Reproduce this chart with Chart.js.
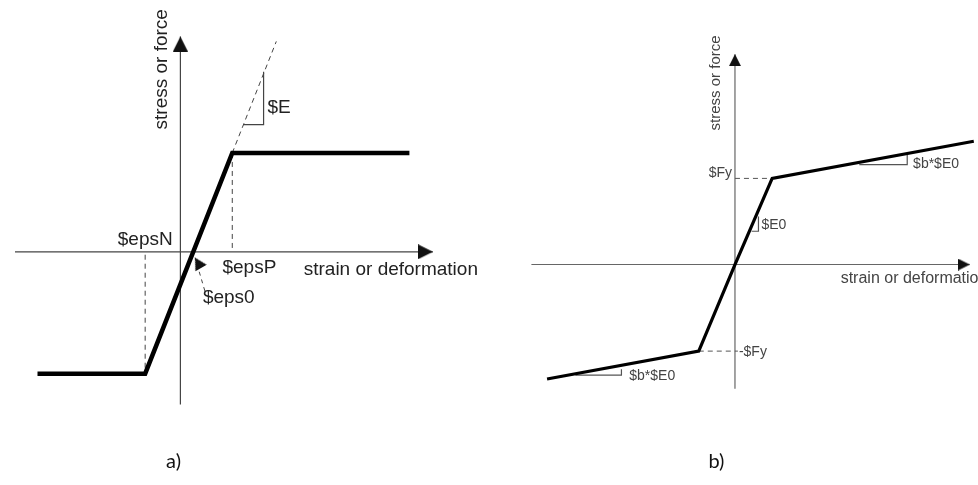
<!DOCTYPE html>
<html>
<head>
<meta charset="utf-8">
<title>stress-strain material models</title>
<script src="https://cdn.jsdelivr.net/npm/chart.js@4"></script>
<style>
  body { margin: 0; background: #fff; }
  #wrap { width: 978px; height: 485px; display: flex; }
  canvas { display: block; }
</style>
</head>
<body>
<div id="wrap">
  <canvas id="panelA" width="489" height="485"></canvas>
  <canvas id="panelB" width="489" height="485"></canvas>
</div>
<script>
// ---------- panel a) elastic - perfectly plastic ----------
const aStrain = [-14.6, -3.6, 5.3, 23.4];
const aStress = [-12.45, -12.45, 10.1, 10.1];
const aElasticX = [5.3, 9.8];          // dashed continuation of the $E line
const aElasticY = [10.1, 21.5];
const aSlopeX = [6.4, 8.5, 8.5];
const aSlopeY = [13.0, 13.0, 18.4];
const aEpsNX = [-3.6, -3.6];
const aEpsNY = [-0.3, -12.45];
const aEpsPX = [5.3, 5.3];
const aEpsPY = [10.1, 0];
const aEps0X = [2.5, 1.5];             // little pointer to $eps0
const aEps0Y = [-4.0, -0.6];
const aAxisX = [-16.9, 25.8];
const aAxisY = [-15.6, 22.0];
const aText = ["$epsN", "$epsP", "$eps0", "$E", "strain or deformation", "stress or force", "a)"];
const aTextX = [-6.4, 4.3, 2.3, 8.9, 12.6, -1.95, -0.7];
const aTextY = [1.2, -1.65, -4.7, 14.75, -1.8, 12.5, -21.4];

// ---------- panel b) bilinear with hardening ----------
const bStrain = [-19.2, -3.7, 0, 3.8, 24.4];
const bStress = [-11.7, -8.85, 0, 8.8, 12.6];
const bFyX = [0, 3.8];
const bFyY = [8.8, 8.8];
const bFyNegX = [-3.7, 0.3];
const bFyNegY = [-8.85, -8.85];
const bE0X = [1.7, 2.4, 2.4];
const bE0Y = [3.4, 3.4, 4.9];
const bHardUpX = [12.7, 17.6, 17.6];
const bHardUpY = [10.2, 10.2, 11.3];
const bHardDnX = [-16.3, -11.6, -11.6];
const bHardDnY = [-11.3, -11.3, -10.7];
const bAxisX = [-20.8, 24.0];
const bAxisY = [-12.7, 21.5];
const bText = ["$Fy", "-$Fy", "$E0", "$b*$E0", "$b*$E0", "strain or deformation", "stress or force", "b)"];
const bTextX = [-0.3, 0.4, 2.7, 18.2, -10.8, 10.8, -2.0, -1.9];
const bTextY = [9.35, -9.0, 4.0, 10.3, -11.4, -1.4, 13.7, -20.1];

function pts(xs, ys) {
  return xs.map((x, i) => ({ x: x, y: ys[i] }));
}

// arrow head image; its centre is the tip
function arrowHead(len, wid, color) {
  const c = document.createElement("canvas");
  c.width = len * 2;
  c.height = wid;
  const g = c.getContext("2d");
  g.fillStyle = color;
  g.beginPath();
  g.moveTo(0, 0);
  g.lineTo(len, wid / 2);
  g.lineTo(0, wid);
  g.closePath();
  g.fill();
  return c;
}

function line(data, color, width, dash) {
  return {
    data: data,
    showLine: true,
    borderColor: color,
    borderWidth: width,
    borderDash: dash || [],
    pointRadius: 0,
    fill: false,
    clip: false,
  };
}

function arrowLine(data, color, width, head, rot, dash) {
  let ds = line(data, color, width, dash);
  ds.pointRadius = [0, 1];
  ds.pointStyle = ["circle", head];
  ds.pointRotation = [0, rot];
  return ds;
}

// text drawn through the chart scales
const textPlugin = {
  id: "panelText",
  afterDatasetsDraw(chart, args, opts) {
    const ctx = chart.ctx;
    const xs = chart.scales.x, ys = chart.scales.y;
    opts.items.forEach((t, i) => {
      const st = opts.styles[i];
      ctx.save();
      ctx.fillStyle = st.color;
      ctx.font = st.font;
      ctx.textAlign = st.align;
      ctx.textBaseline = "middle";
      ctx.translate(xs.getPixelForValue(opts.xs[i]), ys.getPixelForValue(opts.ys[i]));
      if (st.rot) ctx.rotate(st.rot * Math.PI / 180);
      ctx.fillText(t, 0, 0);
      ctx.restore();
    });
  },
};

function makePanel(id, xr, yr, datasets, text) {
  return new Chart(document.getElementById(id).getContext("2d"), {
    type: "scatter",
    data: { datasets: datasets },
    options: {
      responsive: false,
      animation: false,
      events: [],
      layout: { padding: 0 },
      scales: {
        x: { type: "linear", min: xr[0], max: xr[1], display: false },
        y: { type: "linear", min: yr[0], max: yr[1], display: false },
      },
      plugins: {
        legend: { display: false },
        tooltip: { enabled: false },
        panelText: text,
      },
    },
    plugins: [textPlugin],
  });
}

const fa = '19px "Liberation Sans", Arial, sans-serif';
const fb = '15px "Liberation Sans", Arial, sans-serif';
const fbl = '16px "Liberation Sans", Arial, sans-serif';
const fbs = '14px "Liberation Sans", Arial, sans-serif';
const fl = '20px Lato, "Open Sans", sans-serif';

const headA = arrowHead(15, 15, "#111");
const headSmall = arrowHead(12, 13, "#111");
const headB = arrowHead(12, 12, "#111");

makePanel("panelA", [-17.9, 31.0], [-23.3, 25.2], [
  line(pts(aStrain, aStress), "#000", 4.5),
  line(pts(aElasticX, aElasticY), "#444", 1, [5, 4]),
  line(pts(aSlopeX, aSlopeY), "#444", 1.2),
  line(pts(aEpsNX, aEpsNY), "#444", 1, [5, 4]),
  line(pts(aEpsPX, aEpsPY), "#444", 1, [5, 4]),
  arrowLine(pts(aEps0X, aEps0Y), "#444", 1, headSmall, -120, [4, 4]),
  arrowLine(pts(aAxisX, [0, 0]), "#444", 1.2, headA, 0),
  arrowLine(pts([0, 0], aAxisY), "#444", 1.2, headA, -90),
], {
  items: aText, xs: aTextX, ys: aTextY,
  styles: [
    { font: fa, color: "#222", align: "left" },
    { font: fa, color: "#222", align: "left" },
    { font: fa, color: "#222", align: "left" },
    { font: fa, color: "#222", align: "left" },
    { font: fa, color: "#222", align: "left" },
    { font: fa, color: "#222", align: "left", rot: -90 },
    { font: fl, color: "#111", align: "center" },
  ],
});

makePanel("panelB", [-24.6, 24.3], [-22.0, 26.5], [
  line(pts(bStrain, bStress), "#000", 3.2),
  line(pts(bFyX, bFyY), "#555", 1, [5, 4]),
  line(pts(bFyNegX, bFyNegY), "#555", 1, [5, 4]),
  line(pts(bE0X, bE0Y), "#555", 1.2),
  line(pts(bHardUpX, bHardUpY), "#555", 1.2),
  line(pts(bHardDnX, bHardDnY), "#555", 1.2),
  arrowLine(pts(bAxisX, [0, 0]), "#666", 1.2, headB, 0),
  arrowLine(pts([0, 0], bAxisY), "#666", 1.2, headB, -90),
], {
  items: bText, xs: bTextX, ys: bTextY,
  styles: [
    { font: fbs, color: "#444", align: "right" },
    { font: fbs, color: "#444", align: "left" },
    { font: fbs, color: "#444", align: "left" },
    { font: fbs, color: "#444", align: "left" },
    { font: fbs, color: "#444", align: "left" },
    { font: fbl, color: "#444", align: "left" },
    { font: fb, color: "#444", align: "left", rot: -90 },
    { font: fl, color: "#111", align: "center" },
  ],
});
</script>
</body>
</html>
